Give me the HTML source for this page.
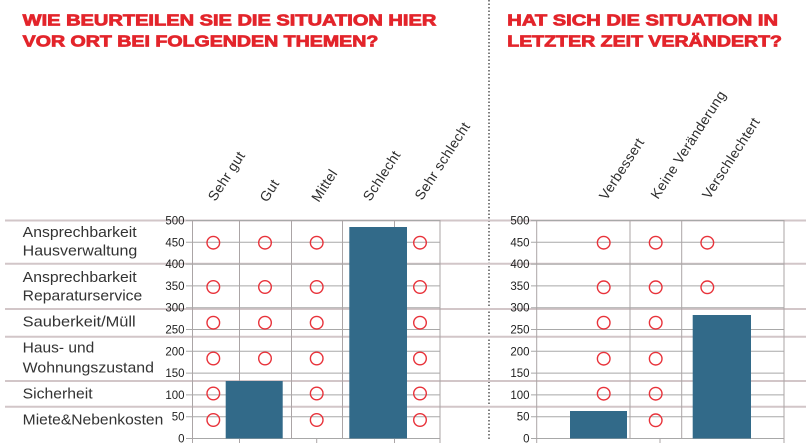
<!DOCTYPE html>
<html><head><meta charset="utf-8">
<style>
html,body{margin:0;padding:0;background:#fff;}
svg{display:block;}
text{font-family:"Liberation Sans",sans-serif;}
</style></head>
<body>
<svg width="806" height="448" viewBox="0 0 806 448" xmlns="http://www.w3.org/2000/svg">
<rect width="806" height="448" fill="#fff"/>
<!-- titles -->
<g fill="#e3242b" stroke="#e3242b" stroke-width="0.8" font-weight="bold" font-size="16">
<text x="22.7" y="25.5" textLength="413.6" lengthAdjust="spacingAndGlyphs">WIE BEURTEILEN SIE DIE SITUATION HIER</text>
<text x="22.7" y="46.7" textLength="355.6" lengthAdjust="spacingAndGlyphs">VOR ORT BEI FOLGENDEN THEMEN?</text>
<text x="507.3" y="25.5" textLength="270.7" lengthAdjust="spacingAndGlyphs">HAT SICH DIE SITUATION IN</text>
<text x="507.3" y="46.7" textLength="274.7" lengthAdjust="spacingAndGlyphs">LETZTER ZEIT VERÄNDERT?</text>
</g>
<!-- dotted divider -->
<line x1="489" y1="0" x2="489" y2="440" stroke="#555" stroke-width="1.5" stroke-dasharray="1.5 2"/>
<!-- row separators -->
<g stroke="#d2c6c8" stroke-width="2">
<line x1="5" y1="220.5" x2="806" y2="220.5"/>
<line x1="5" y1="263.8" x2="806" y2="263.8"/>
<line x1="5" y1="309" x2="806" y2="309"/>
<line x1="5" y1="336.7" x2="806" y2="336.7"/>
<line x1="5" y1="381" x2="806" y2="381"/>
<line x1="5" y1="406.7" x2="806" y2="406.7"/>
</g>
<!-- gridlines -->
<g stroke="#a8a8a8" stroke-width="1">
<line x1="186" y1="220.5" x2="440" y2="220.5"/>
<line x1="186" y1="242.3" x2="440" y2="242.3"/>
<line x1="186" y1="264.1" x2="440" y2="264.1"/>
<line x1="186" y1="285.9" x2="440" y2="285.9"/>
<line x1="186" y1="307.7" x2="440" y2="307.7"/>
<line x1="186" y1="329.5" x2="440" y2="329.5"/>
<line x1="186" y1="351.3" x2="440" y2="351.3"/>
<line x1="186" y1="373.1" x2="440" y2="373.1"/>
<line x1="186" y1="394.9" x2="440" y2="394.9"/>
<line x1="186" y1="416.7" x2="440" y2="416.7"/>
<line x1="186" y1="438.5" x2="440" y2="438.5"/>
<line x1="531" y1="220.5" x2="784" y2="220.5"/>
<line x1="531" y1="242.3" x2="784" y2="242.3"/>
<line x1="531" y1="264.1" x2="784" y2="264.1"/>
<line x1="531" y1="285.9" x2="784" y2="285.9"/>
<line x1="531" y1="307.7" x2="784" y2="307.7"/>
<line x1="531" y1="329.5" x2="784" y2="329.5"/>
<line x1="531" y1="351.3" x2="784" y2="351.3"/>
<line x1="531" y1="373.1" x2="784" y2="373.1"/>
<line x1="531" y1="394.9" x2="784" y2="394.9"/>
<line x1="531" y1="416.7" x2="784" y2="416.7"/>
<line x1="531" y1="438.5" x2="784" y2="438.5"/>
</g>
<!-- vertical lines -->
<g stroke="#aba5a6" stroke-width="1">
<line x1="192.5" y1="220" x2="192.5" y2="443"/>
<line x1="239.5" y1="220" x2="239.5" y2="443"/>
<line x1="291.5" y1="220" x2="291.5" y2="438.5"/>
<line x1="316.7" y1="438.5" x2="316.7" y2="443"/>
<line x1="342.5" y1="220" x2="342.5" y2="438.5"/>
<line x1="394.5" y1="220" x2="394.5" y2="443"/>
<line x1="440" y1="220" x2="440" y2="443"/>
<line x1="536.7" y1="220" x2="536.7" y2="443"/>
<line x1="630" y1="220" x2="630" y2="438.5"/>
<line x1="660" y1="438.5" x2="660" y2="443"/>
<line x1="681.7" y1="220" x2="681.7" y2="438.5"/>
<line x1="784" y1="220" x2="784" y2="443"/>
</g>
<!-- bars -->
<g fill="#326a89">
<rect x="225.7" y="381" width="57" height="57.5"/>
<rect x="349.3" y="227" width="57.7" height="211.5"/>
<rect x="570" y="411" width="57" height="27.5"/>
<rect x="692.7" y="315" width="58.3" height="123.5"/>
</g>
<!-- circles -->
<g fill="none" stroke="#e8323a" stroke-width="1.4">
<circle cx="213.3" cy="242.7" r="6.3"/><circle cx="213.3" cy="287" r="6.3"/><circle cx="213.3" cy="322.7" r="6.3"/><circle cx="213.3" cy="358.5" r="6.3"/><circle cx="213.3" cy="393.5" r="6.3"/><circle cx="213.3" cy="420" r="6.3"/>
<circle cx="265" cy="242.7" r="6.3"/><circle cx="265" cy="287" r="6.3"/><circle cx="265" cy="322.7" r="6.3"/><circle cx="265" cy="358.5" r="6.3"/>
<circle cx="316.7" cy="242.7" r="6.3"/><circle cx="316.7" cy="287" r="6.3"/><circle cx="316.7" cy="322.7" r="6.3"/><circle cx="316.7" cy="358.5" r="6.3"/><circle cx="316.7" cy="393.5" r="6.3"/><circle cx="316.7" cy="420" r="6.3"/>
<circle cx="420" cy="242.7" r="6.3"/><circle cx="420" cy="287" r="6.3"/><circle cx="420" cy="322.7" r="6.3"/><circle cx="420" cy="358.5" r="6.3"/><circle cx="420" cy="393.5" r="6.3"/><circle cx="420" cy="420" r="6.3"/>
<circle cx="603.7" cy="242.7" r="6.3"/><circle cx="603.7" cy="287.3" r="6.3"/><circle cx="603.7" cy="322.7" r="6.3"/><circle cx="603.7" cy="358.7" r="6.3"/><circle cx="603.7" cy="393.7" r="6.3"/>
<circle cx="655.7" cy="242.7" r="6.3"/><circle cx="655.7" cy="287.3" r="6.3"/><circle cx="655.7" cy="322.7" r="6.3"/><circle cx="655.7" cy="358.7" r="6.3"/><circle cx="655.7" cy="393.7" r="6.3"/><circle cx="655.7" cy="420.3" r="6.3"/>
<circle cx="707.3" cy="242.7" r="6.3"/><circle cx="707.3" cy="287.3" r="6.3"/>
</g>
<!-- y tick labels -->
<g fill="#222" font-size="11.5" text-anchor="end">
<text x="184.5" y="224.5">500</text><text x="184.5" y="246.3">450</text><text x="184.5" y="268.1">400</text><text x="184.5" y="289.9">350</text><text x="184.5" y="311.7">300</text><text x="184.5" y="333.5">250</text><text x="184.5" y="355.3">200</text><text x="184.5" y="377.1">150</text><text x="184.5" y="398.9">100</text><text x="184.5" y="420.7">50</text><text x="184.5" y="442.5">0</text>
<text x="529.5" y="224.5">500</text><text x="529.5" y="246.3">450</text><text x="529.5" y="268.1">400</text><text x="529.5" y="289.9">350</text><text x="529.5" y="311.7">300</text><text x="529.5" y="333.5">250</text><text x="529.5" y="355.3">200</text><text x="529.5" y="377.1">150</text><text x="529.5" y="398.9">100</text><text x="529.5" y="420.7">50</text><text x="529.5" y="442.5">0</text>
</g>
<!-- row labels -->
<g fill="#333" font-size="14.5">
<text x="22.7" y="237" textLength="114" lengthAdjust="spacingAndGlyphs">Ansprechbarkeit</text>
<text x="22.7" y="255.7" textLength="114.6" lengthAdjust="spacingAndGlyphs">Hausverwaltung</text>
<text x="22.7" y="282" textLength="114" lengthAdjust="spacingAndGlyphs">Ansprechbarkeit</text>
<text x="22.7" y="300.7" textLength="119.6" lengthAdjust="spacingAndGlyphs">Reparaturservice</text>
<text x="22.7" y="326.7" textLength="113" lengthAdjust="spacingAndGlyphs">Sauberkeit/Müll</text>
<text x="22.7" y="352.7" textLength="71.6" lengthAdjust="spacingAndGlyphs">Haus- und</text>
<text x="22.7" y="372.3" textLength="131.3" lengthAdjust="spacingAndGlyphs">Wohnungszustand</text>
<text x="22.7" y="398.3" textLength="70" lengthAdjust="spacingAndGlyphs">Sicherheit</text>
<text x="22.7" y="424.3" textLength="140.6" lengthAdjust="spacingAndGlyphs">Miete&amp;Nebenkosten</text>
</g>
<!-- rotated column labels -->
<g fill="#2e2e2e" font-size="14" letter-spacing="0.35">
<text transform="translate(215.3,202) rotate(-57)">Sehr gut</text>
<text transform="translate(267,203) rotate(-57)">Gut</text>
<text transform="translate(318.7,203) rotate(-57)">Mittel</text>
<text transform="translate(370.3,202) rotate(-57)">Schlecht</text>
<text transform="translate(422,201) rotate(-57)">Sehr schlecht</text>
<text transform="translate(606.5,201) rotate(-57)">Verbessert</text>
<text transform="translate(658,200) rotate(-57)">Keine Veränderung</text>
<text transform="translate(709.5,200) rotate(-57)">Verschlechtert</text>
</g>
</svg>
</body></html>
